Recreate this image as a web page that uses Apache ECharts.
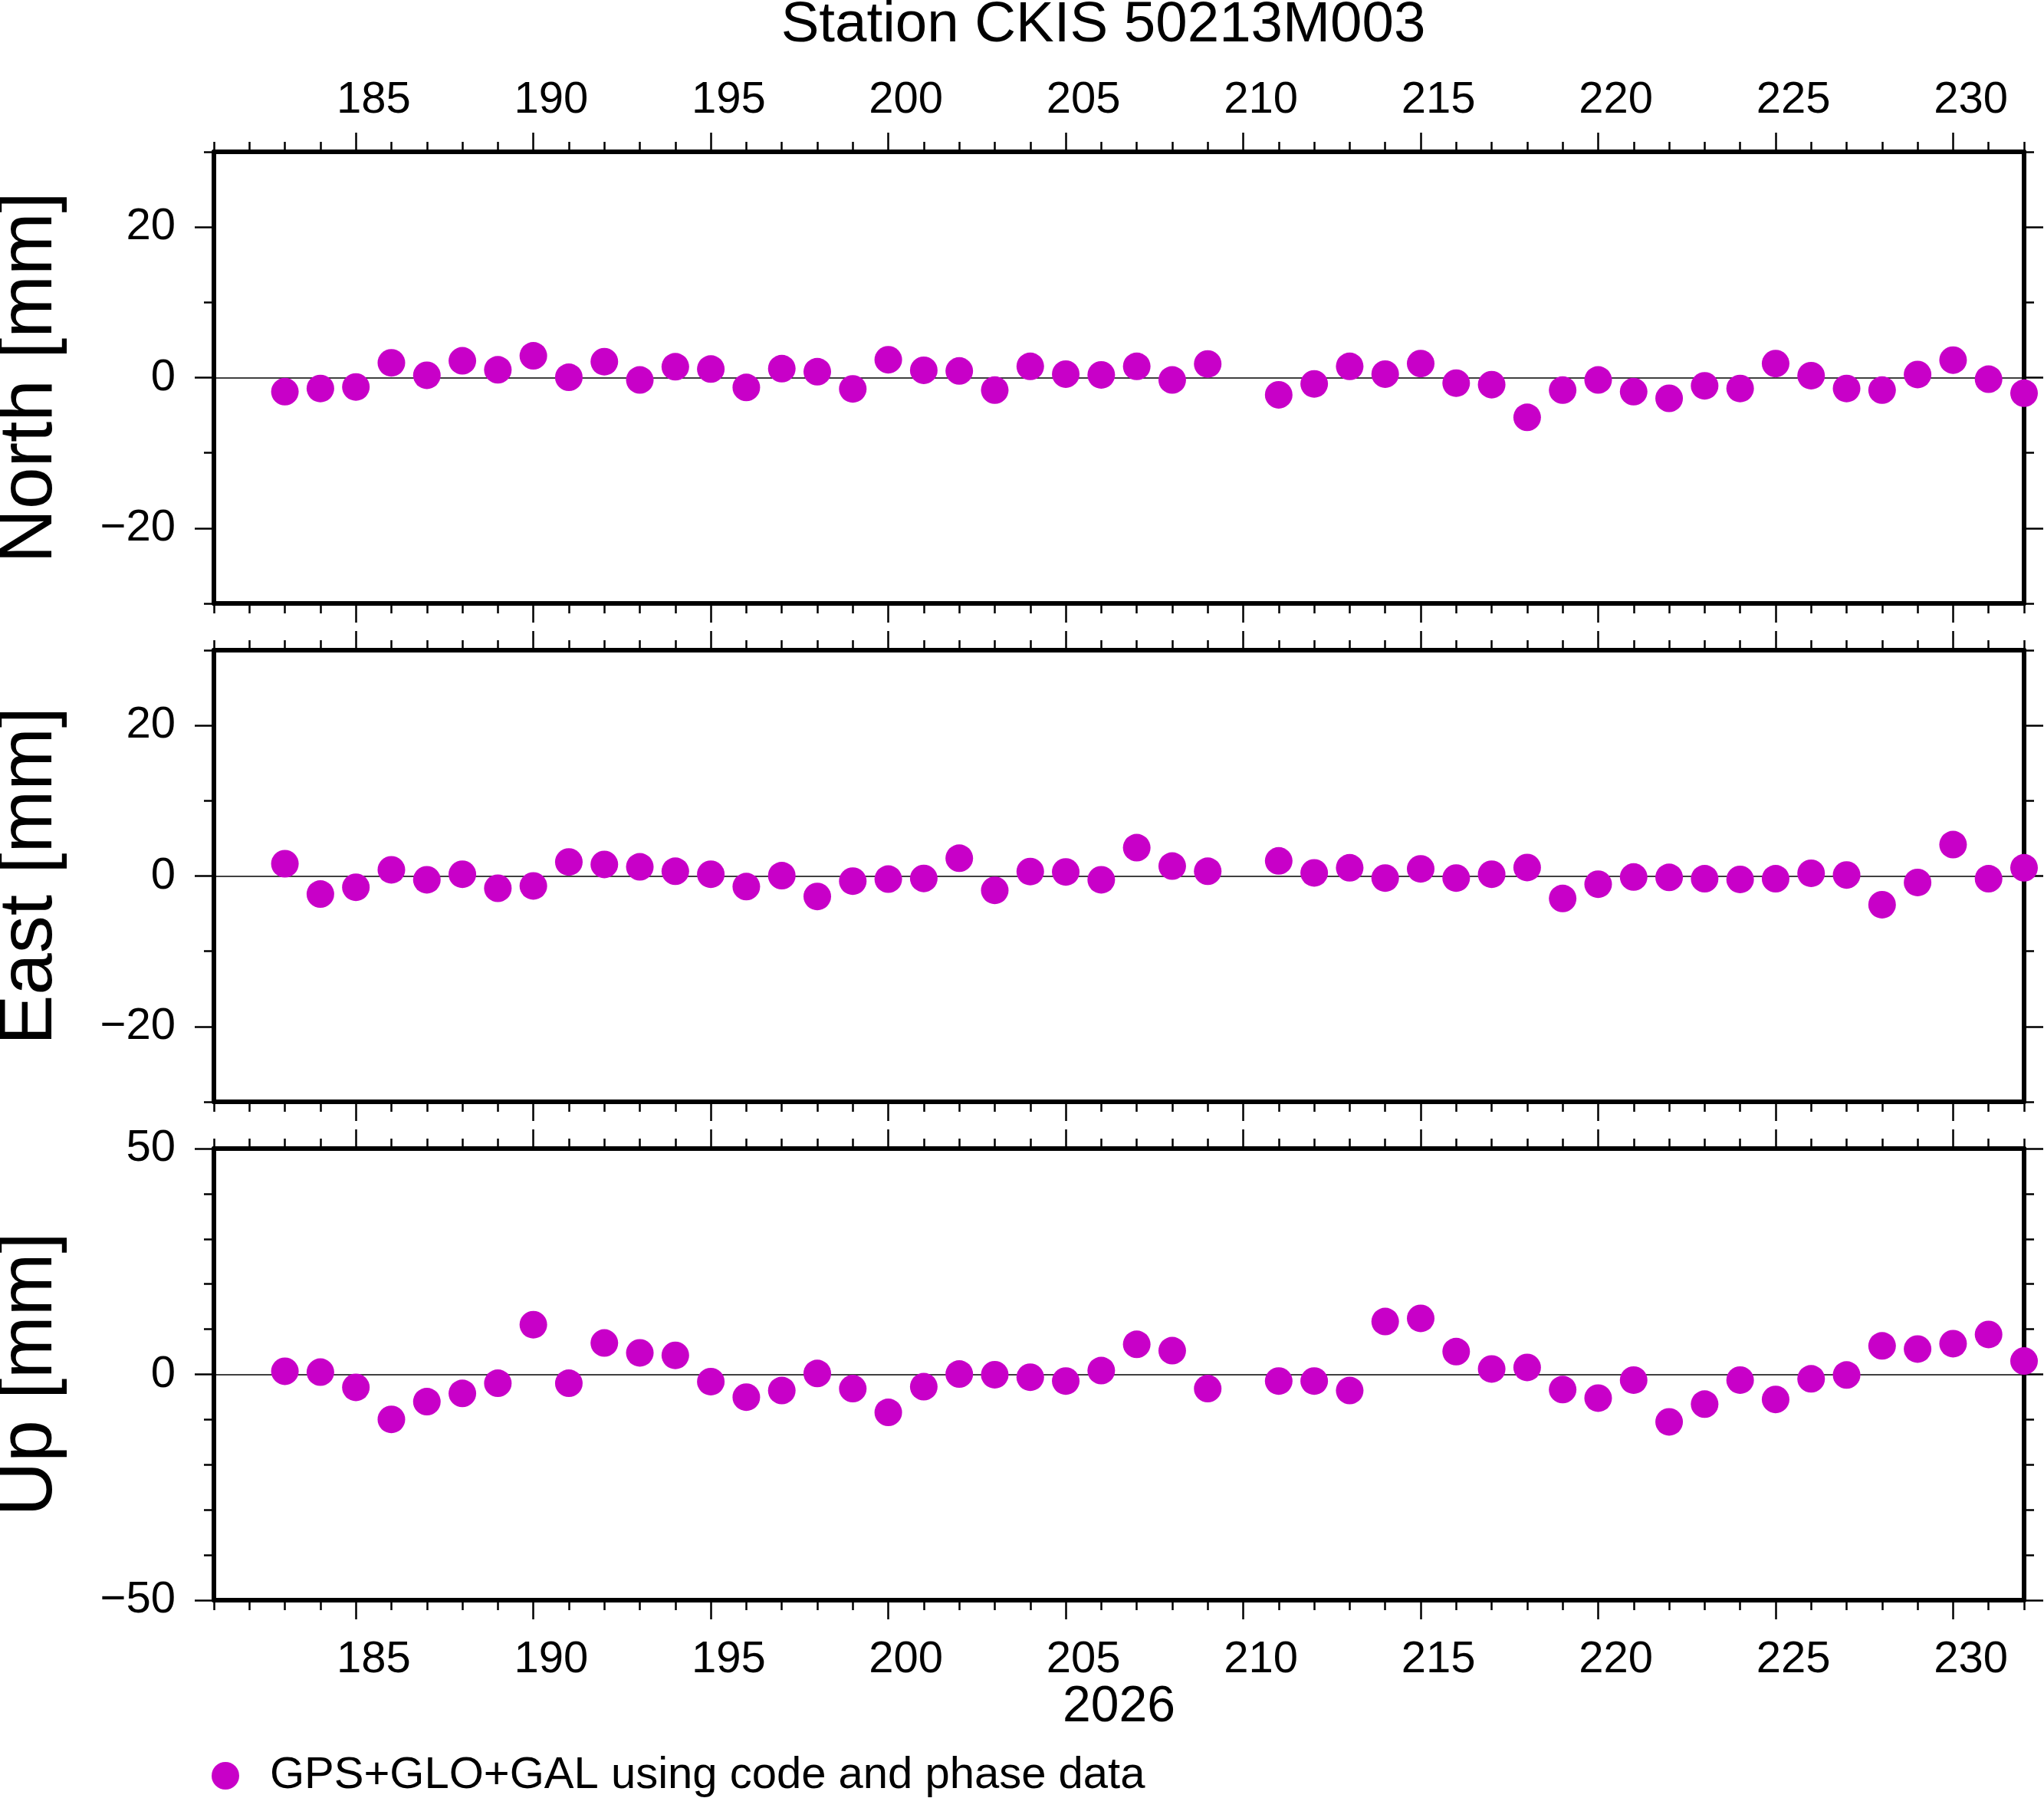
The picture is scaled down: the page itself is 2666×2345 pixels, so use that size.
<!DOCTYPE html>
<html><head><meta charset="utf-8">
<script src="https://cdn.jsdelivr.net/npm/echarts@6/dist/echarts.min.js"></script>
<style>html,body{margin:0;padding:0;background:#fff}#c{width:2666px;height:2345px}</style>
</head><body><div id="c"></div>
<script>
// ---- data ----
const days = [183,184,185,186,187,188,189,190,191,192,193,194,195,196,197,198,199,200,201,202,203,204,205,206,207,208,209,
              211,212,213,214,215,216,217,218,219,220,221,222,223,224,225,226,227,228,229,230,231,232];
const north = [-1.87,-1.45,-1.24,1.97,0.31,2.23,1.04,2.90,0.05,2.12,-0.31,1.45,1.14,-1.30,1.19,0.78,-1.50,2.38,0.98,0.88,-1.66,1.50,0.47,0.36,1.50,-0.31,1.81,
               -2.28,-0.83,1.50,0.47,1.87,-0.73,-0.93,-5.28,-1.66,-0.31,-1.87,-2.75,-1.09,-1.45,1.87,0.26,-1.45,-1.66,0.41,2.33,-0.21,-2.07];
const east = [1.63,-2.40,-1.50,0.82,-0.50,0.23,-1.63,-1.32,1.86,1.54,1.22,0.63,0.23,-1.41,0.05,-2.72,-0.68,-0.41,-0.32,2.36,-1.90,0.59,0.54,-0.50,3.76,1.32,0.63,
              2.00,0.41,1.09,-0.27,0.95,-0.27,0.23,1.13,-2.99,-1.09,-0.14,-0.18,-0.36,-0.45,-0.36,0.36,0.14,-3.81,-0.86,4.17,-0.36,1.09];
const up = [0.70,0.49,-2.88,-9.96,-6.03,-4.21,-1.96,11.01,-1.96,6.94,4.77,4.21,-1.61,-5.05,-3.58,0.21,-3.16,-8.42,-2.73,0.07,-0.07,-0.63,-1.47,0.84,6.66,5.26,-3.16,
            -1.47,-1.47,-3.58,11.71,12.41,5.05,1.19,1.54,-3.37,-5.26,-1.26,-10.52,-6.59,-1.26,-5.54,-0.98,-0.14,6.31,5.61,6.80,8.84,2.95];
const xRange = [181, 232];
const xMajorTicks = [185,190,195,200,205,210,215,220,225,230];
// day labels sit in the middle of their day interval
const xLabelValues = [185.5,190.5,195.5,200.5,205.5,210.5,215.5,220.5,225.5,230.5];
const xMinorStep = 1;
const panelNames = ['North [mm]', 'East [mm]', 'Up [mm]'];
const yRanges = [[-30,30],[-30,30],[-50,50]];
const yMajorTicks = [[-20,0,20],[-20,0,20],[-50,0,50]];
const yMinorStep = 10;
const titleText = 'Station CKIS 50213M003';
const xName = '2026';
const legendLabel = 'GPS+GLO+GAL using code and phase data';
const panelValues = [north, east, up];

// ---- layout / style ----
const FONT = "'Liberation Sans', Arial, Helvetica, sans-serif";
const L = 279, R = 2640;
const tops = [198, 848, 1498];
const H = 589;
const COLOR = '#c800c8';

const grids = [], xAxes = [], yAxes = [], series = [], graphics = [];
tops.forEach((t, i) => {
  grids.push({left: L, top: t, width: R - L, height: H, containLabel: false});
  const lineStyle = {color: '#000', width: 6};
  const tickStyle = {color: '#000', width: 2.5};
  const lbl = {fontSize: 58, fontFamily: FONT, color: '#000'};
  ['bottom', 'top'].forEach(pos => {
    const showLbl = (pos === 'bottom' && i === 2) || (pos === 'top' && i === 0);
    xAxes.push({
      gridIndex: i, type: 'value', position: pos, min: xRange[0], max: xRange[1], z: 1,
      axisLine: {show: true, onZero: false, lineStyle},
      axisTick: {show: true, customValues: xMajorTicks, length: 25, lineStyle: tickStyle},
      axisLabel: Object.assign({show: showLbl, customValues: xLabelValues, margin: pos === 'bottom' ? 49 : 38,
        formatter: v => String(Math.floor(v))}, lbl),
      splitLine: {show: false}
    });
    xAxes.push({
      gridIndex: i, type: 'value', position: pos, min: xRange[0], max: xRange[1], interval: xMinorStep, z: 1,
      axisLine: {show: false, onZero: false},
      axisTick: {show: true, length: 13, lineStyle: tickStyle},
      axisLabel: {show: false}, splitLine: {show: false}
    });
  });
  ['left', 'right'].forEach(pos => {
    yAxes.push({
      gridIndex: i, type: 'value', position: pos, min: yRanges[i][0], max: yRanges[i][1], z: 1,
      axisLine: {show: true, onZero: false, lineStyle},
      axisTick: {show: true, customValues: yMajorTicks[i], length: 25, lineStyle: tickStyle},
      axisLabel: Object.assign({}, lbl, {show: pos === 'left', customValues: yMajorTicks[i], margin: 50,
        formatter: v => String(v).replace('-', '\u2212')}),
      splitLine: {show: false}
    });
    yAxes.push({
      gridIndex: i, type: 'value', position: pos, min: yRanges[i][0], max: yRanges[i][1], interval: yMinorStep, z: 1,
      axisLine: {show: false, onZero: false},
      axisTick: {show: true, length: 13, lineStyle: tickStyle},
      axisLabel: {show: false}, splitLine: {show: false}
    });
  });
  series.push({
    name: legendLabel, type: 'scatter', xAxisIndex: i * 4, yAxisIndex: i * 4,
    symbol: 'circle', symbolSize: 36, clip: false, z: 10,
    itemStyle: {color: COLOR, opacity: 1},
    data: days.map((d, k) => [d, panelValues[i][k]]),
    markLine: {
      silent: true, symbol: 'none', label: {show: false},
      lineStyle: {color: '#000', width: 1.5, type: 'solid'},
      emphasis: {disabled: true},
      data: [{yAxis: 0}]
    }
  });
  graphics.push({
    type: 'text', x: 40, y: t + H / 2, rotation: Math.PI / 2,
    style: {text: panelNames[i], fontSize: 98, fontFamily: FONT, fill: '#000', align: 'center', verticalAlign: 'middle'}
  });
});
graphics.push({type: 'text', x: 1439, y: 33, style: {text: titleText, fontSize: 74.5, fontFamily: FONT, fill: '#000', align: 'center', verticalAlign: 'middle'}});
graphics.push({type: 'text', x: (L + R) / 2, y: 2227, style: {text: xName, fontSize: 66, fontFamily: FONT, fill: '#000', align: 'center', verticalAlign: 'middle'}});

const chart = echarts.init(document.getElementById('c'), null, {renderer: 'canvas'});
chart.setOption({
  animation: false,
  backgroundColor: '#fff',
  grid: grids, xAxis: xAxes, yAxis: yAxes, series,
  legend: {
    show: true, data: [legendLabel], left: 271, top: 2282, icon: 'circle',
    itemWidth: 106, itemHeight: 36, selectedMode: false,
    textStyle: {fontSize: 58, fontFamily: FONT, color: '#000'}
  },
  graphic: graphics
});
</script></body></html>
